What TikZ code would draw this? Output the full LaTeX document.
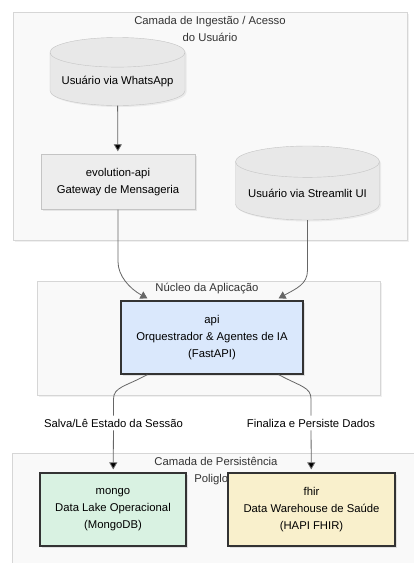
\documentclass[tikz,border=0pt]{standalone}
\usepackage{fontspec}
\setmainfont{Liberation Sans}
\usetikzlibrary{
    shapes.geometric,
    arrows.meta,
    shadows
}

\definecolor{clfill}{HTML}{F9F9F9}
\definecolor{clline}{HTML}{D6D6D6}
\definecolor{cyfill}{HTML}{E8E8E8}
\definecolor{cyline}{HTML}{C4C4C4}
\definecolor{gyfill}{HTML}{EDEDED}
\definecolor{edgecol}{HTML}{666666}
\definecolor{apifill}{HTML}{DAE8FC}
\definecolor{mgfill}{HTML}{D9F2E2}
\definecolor{fhfill}{HTML}{F9F0CC}

\begin{document}
\begin{tikzpicture}[x=1pt,y=-1pt,>={Triangle[length=7pt,width=8pt]},font=\fontsize{11.3}{17}\selectfont]
    \tikzstyle{cluster}=[draw=clline, fill=clfill, drop shadow={opacity=0.12, shadow xshift=1.5pt, shadow yshift=-1.5pt}]
    \tikzstyle{title}=[align=center, text=black!80, inner sep=0pt]
    \tikzstyle{user}=[cylinder, shape border rotate=90, aspect=0.25, anchor=shape center, draw=cyline, fill=cyfill, align=center, drop shadow={opacity=0.12, shadow xshift=1.5pt, shadow yshift=-1.5pt}]
    \tikzstyle{svc}=[rectangle, draw=cyline, fill=gyfill, align=center, drop shadow={opacity=0.15, shadow xshift=1.5pt, shadow yshift=-1.5pt}]
    \tikzstyle{core}=[rectangle, draw=black!80, line width=1.2pt, align=center, drop shadow={opacity=0.2, shadow xshift=1.5pt, shadow yshift=-1.5pt}]
    \tikzstyle{edge}=[draw=edgecol, line width=0.8pt]

    \useasboundingbox (0,0) rectangle (414,563);

    % camadas
    \draw[cluster] (13,12) rectangle (407,240);
    \draw[cluster] (37,281) rectangle (380,395);
    \draw[cluster] (12,453) rectangle (430,580);
    \node[title] (T1) at (210,28.5) {Camada de Ingestão / Acesso\\do Usuário};
    \node[title] (T2) at (207,289) {Núcleo da Aplicação};
    \node[title] (T3) at (216,471) {Camada de Persistência\\Poliglota};

    \node[user, minimum width=135pt, minimum height=68pt] (WA) at (117.5,71.5) {Usuário via WhatsApp};
    \node[svc, minimum width=154pt, minimum height=55pt] (EVO) at (118,182) {evolution-api\\Gateway de Mensageria};
    \node[user, minimum width=144pt, minimum height=74pt] (ST) at (307.5,183) {Usuário via Streamlit UI};
    \node[core, fill=apifill, minimum width=182pt, minimum height=73pt] (API) at (212,337.5) {api\\Orquestrador \& Agentes de IA\\(FastAPI)};
    \node[core, fill=mgfill, minimum width=146pt, minimum height=73pt] (MG) at (113,509.5) {mongo\\Data Lake Operacional\\(MongoDB)};
    \node[core, fill=fhfill, minimum width=167pt, minimum height=73pt] (FH) at (311.5,509.5) {fhir\\Data Warehouse de Saúde\\(HAPI FHIR)};

    \node[inner sep=3pt] (L1) at (113.5,423) {Salva/Lê Estado da Sessão};
    \node[inner sep=3pt] (L2) at (311,423) {Finaliza e Persiste Dados};

    \path[edge,->,shorten >=3pt] (WA) edge (EVO);
    \draw[edge,->] (EVO.south) -- ++(0,52) .. controls +(0,14) and +(-18,-10) .. ([xshift=27pt,yshift=2pt]API.north west);
    \draw[edge,->] (ST.south) -- ++(0,50) .. controls +(0,14) and +(18,-10) .. ([xshift=-25pt,yshift=2pt]API.north east);
    \draw[edge] ([xshift=27pt]API.south west) .. controls +(-22,12) and +(0,-12) .. (L1.north |- 0,399) -- (L1.north);
    \draw[edge] ([xshift=-25pt]API.south east) .. controls +(22,12) and +(0,-12) .. (L2.north |- 0,399) -- (L2.north);
    \path[edge,->,shorten >=3pt] (L1) edge (MG);
    \path[edge,->,shorten >=3pt] (L2) edge (FH);
\end{tikzpicture}
\end{document}
